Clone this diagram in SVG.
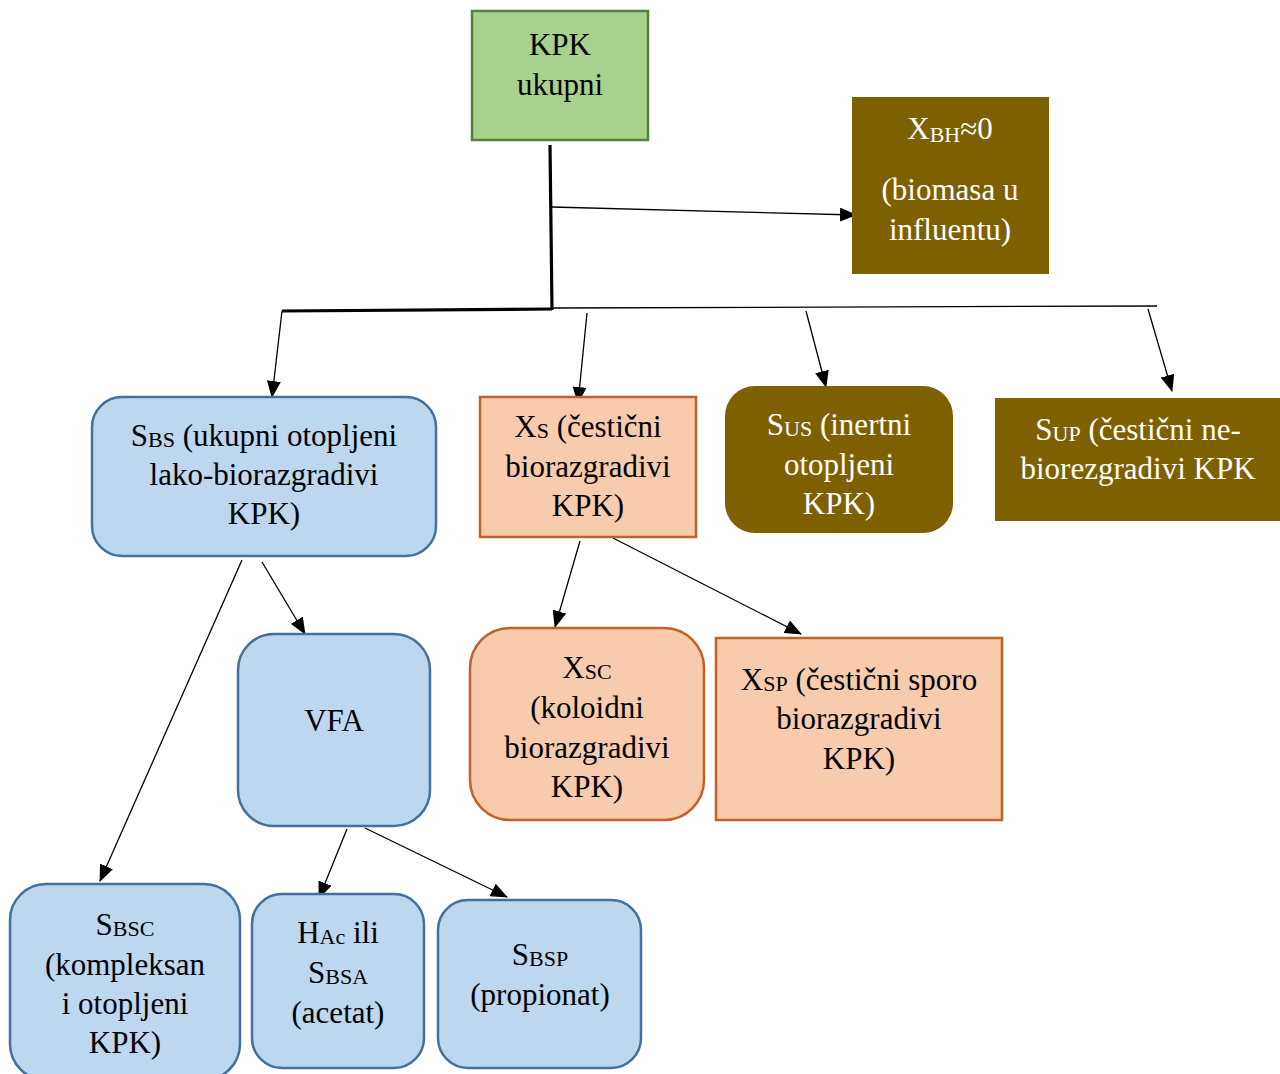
<svg xmlns="http://www.w3.org/2000/svg" width="1280" height="1074" viewBox="0 0 1280 1074">
<defs>
<style>
text{font-family:"Liberation Serif","Times New Roman",serif;font-size:31px;text-anchor:middle;fill:#000}
.w{fill:#fff}
.s{font-size:22px}
.blue{fill:#BDD7EE;stroke:#41719C;stroke-width:2.5}
.peach{fill:#F8CBAD;stroke:#C0622A;stroke-width:2.5}
.brown{fill:#7F6000;stroke:none}
.green{fill:#A9D18E;stroke:#548235;stroke-width:2.5}
.c{stroke:#000;stroke-width:1.3;fill:none}
.t{stroke:#000;stroke-width:3.2;fill:none}
</style>
<marker id="ah" markerWidth="17" markerHeight="14" refX="16" refY="7" orient="auto" markerUnits="userSpaceOnUse">
<path d="M0,0 L17,7 L0,14 Z" fill="#000"/>
</marker>
</defs>
<rect width="1280" height="1074" fill="#fff"/>

<g id="connectors">
<line class="t" x1="550" y1="145" x2="552" y2="310"/>
<line class="t" x1="282" y1="311" x2="552" y2="309"/>
<line class="c" x1="552" y1="308" x2="1157" y2="306"/>
<line class="c" x1="552" y1="207" x2="856" y2="215" marker-end="url(#ah)"/>
<line class="c" x1="282" y1="311" x2="272" y2="397" marker-end="url(#ah)"/>
<line class="c" x1="587" y1="313" x2="578" y2="403" marker-end="url(#ah)"/>
<line class="c" x1="806" y1="311" x2="826" y2="387" marker-end="url(#ah)"/>
<line class="c" x1="1148" y1="309" x2="1172" y2="391" marker-end="url(#ah)"/>
<line class="c" x1="242" y1="560" x2="100" y2="881" marker-end="url(#ah)"/>
<line class="c" x1="262" y1="562" x2="305" y2="634" marker-end="url(#ah)"/>
<line class="c" x1="580" y1="541" x2="555" y2="627" marker-end="url(#ah)"/>
<line class="c" x1="613" y1="538" x2="801" y2="634" marker-end="url(#ah)"/>
<line class="c" x1="347" y1="829" x2="319" y2="898" marker-end="url(#ah)"/>
<line class="c" x1="365" y1="828" x2="507" y2="897" marker-end="url(#ah)"/>
</g>

<g id="kpk">
<rect class="green" x="472" y="11" width="176" height="129"/>
<text x="560" y="55">KPK</text>
<text x="560" y="95">ukupni</text>
</g>

<g id="xbh">
<rect class="brown" x="852" y="97" width="197" height="177"/>
<text class="w" x="950" y="139">X<tspan class="s" dy="3">BH</tspan><tspan dy="-3">≈0</tspan></text>
<text class="w" x="950" y="200">(biomasa u</text>
<text class="w" x="950" y="240">influentu)</text>
</g>

<g id="sbs">
<rect class="blue" x="92" y="397" width="344" height="159" rx="30"/>
<text x="264" y="446">S<tspan class="s" dy="1">BS</tspan><tspan dy="-1"> (ukupni otopljeni</tspan></text>
<text x="264" y="485">lako-biorazgradivi</text>
<text x="264" y="524">KPK)</text>
</g>

<g id="xs">
<rect class="peach" x="480" y="397" width="216" height="140"/>
<text x="588" y="437">X<tspan class="s" dy="1">S</tspan><tspan dy="-1"> (čestični</tspan></text>
<text x="588" y="477">biorazgradivi</text>
<text x="588" y="516">KPK)</text>
</g>

<g id="sus">
<rect class="brown" x="725" y="386" width="228" height="147" rx="30"/>
<text class="w" x="839" y="435">S<tspan class="s" dy="1">US</tspan><tspan dy="-1"> (inertni</tspan></text>
<text class="w" x="839" y="475">otopljeni</text>
<text class="w" x="839" y="514">KPK)</text>
</g>

<g id="sup">
<rect class="brown" x="995" y="398" width="285" height="123"/>
<text class="w" x="1138" y="440">S<tspan class="s" dy="1">UP</tspan><tspan dy="-1"> (čestični ne-</tspan></text>
<text class="w" x="1138" y="479">biorezgradivi KPK</text>
</g>

<g id="vfa">
<rect class="blue" x="238" y="634" width="192" height="192" rx="36"/>
<text x="334" y="731">VFA</text>
</g>

<g id="xsc">
<rect class="peach" x="470" y="628" width="234" height="192" rx="40"/>
<text x="587" y="678">X<tspan class="s" dy="1">SC</tspan></text>
<text x="587" y="718">(koloidni</text>
<text x="587" y="758">biorazgradivi</text>
<text x="587" y="797">KPK)</text>
</g>

<g id="xsp">
<rect class="peach" x="716" y="638" width="286" height="182"/>
<text x="859" y="690">X<tspan class="s" dy="1">SP</tspan><tspan dy="-1"> (čestični sporo</tspan></text>
<text x="859" y="729">biorazgradivi</text>
<text x="859" y="769">KPK)</text>
</g>

<g id="sbsc">
<rect class="blue" x="10" y="884" width="230" height="196" rx="36"/>
<text x="125" y="935">S<tspan class="s" dy="1">BSC</tspan></text>
<text x="125" y="975">(kompleksan</text>
<text x="125" y="1014">i otopljeni</text>
<text x="125" y="1053">KPK)</text>
</g>

<g id="hac">
<rect class="blue" x="252" y="894" width="172" height="174" rx="30"/>
<text x="338" y="943">H<tspan class="s" dy="1">Ac</tspan><tspan dy="-1"> ili</tspan></text>
<text x="338" y="983">S<tspan class="s" dy="1">BSA</tspan></text>
<text x="338" y="1023">(acetat)</text>
</g>

<g id="sbsp">
<rect class="blue" x="438" y="900" width="203" height="168" rx="30"/>
<text x="540" y="965">S<tspan class="s" dy="1">BSP</tspan></text>
<text x="540" y="1005">(propionat)</text>
</g>
</svg>
